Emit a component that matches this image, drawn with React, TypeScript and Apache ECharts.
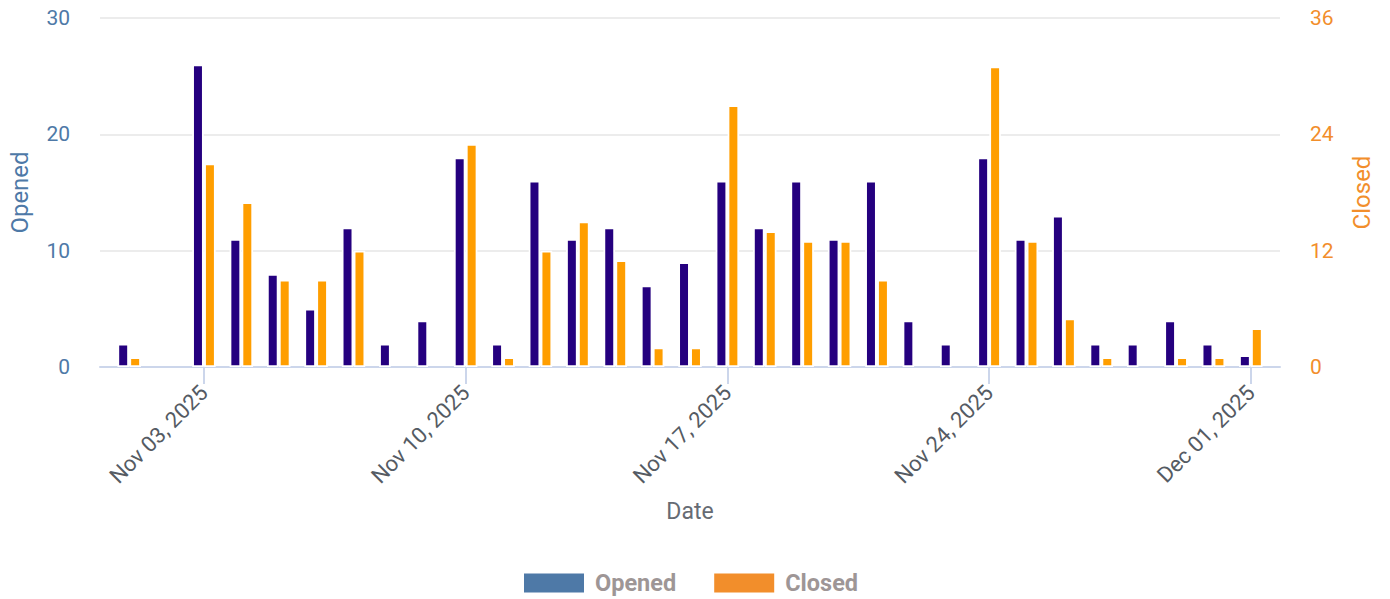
import React, { useEffect, useRef } from "react";
import * as echarts from "echarts";

const dates: string[] = [
  "Nov 01, 2025", "Nov 02, 2025", "Nov 03, 2025", "Nov 04, 2025", "Nov 05, 2025", "Nov 06, 2025",
  "Nov 07, 2025", "Nov 08, 2025", "Nov 09, 2025", "Nov 10, 2025", "Nov 11, 2025", "Nov 12, 2025",
  "Nov 13, 2025", "Nov 14, 2025", "Nov 15, 2025", "Nov 16, 2025", "Nov 17, 2025", "Nov 18, 2025",
  "Nov 19, 2025", "Nov 20, 2025", "Nov 21, 2025", "Nov 22, 2025", "Nov 23, 2025", "Nov 24, 2025",
  "Nov 25, 2025", "Nov 26, 2025", "Nov 27, 2025", "Nov 28, 2025", "Nov 29, 2025", "Nov 30, 2025",
  "Dec 01, 2025",
];

const opened: number[] = [2, 0, 26, 11, 8, 5, 12, 2, 4, 18, 2, 16, 11, 12, 7, 9, 16, 12, 16, 11, 16, 4, 2, 18, 11, 13, 2, 2, 4, 2, 1];
const closed: number[] = [1, 0, 21, 17, 9, 9, 12, 0, 0, 23, 1, 12, 15, 11, 2, 2, 27, 14, 13, 13, 9, 0, 0, 31, 13, 5, 1, 0, 1, 1, 4];

const tickLabels: string[] = ["Nov 03, 2025", "Nov 10, 2025", "Nov 17, 2025", "Nov 24, 2025", "Dec 01, 2025"];

const FONT = "Roboto, 'Noto Sans', sans-serif";

export default function App() {
  const ref = useRef<HTMLDivElement>(null);
  useEffect(() => {
    document.body.style.margin = "0";
    if (!ref.current) return;
    const chart = echarts.init(ref.current, null, { renderer: "svg" });
    const tickPositions = tickLabels.map((t) => dates.indexOf(t));
    const barBorder = { borderColor: "#ffffff", borderWidth: 1.75 };
    const toPoints = (arr: number[]) => arr.map((v, i) => [i, v === 0 ? "-" : v]);
    chart.setOption({
      animation: false,
      textStyle: { fontFamily: FONT },
      grid: { left: 100, right: 110, top: 18, bottom: 232, containLabel: false },
      legend: {
        left: 524,
        top: 570,
        padding: 0,
        itemWidth: 60,
        itemHeight: 19,
        itemGap: 38,
        icon: "rect",
        textStyle: { color: "#9e9696", fontSize: 23.5, fontWeight: "bold", lineHeight: 26, padding: [0, 0, 0, 6], fontFamily: FONT },
        data: [
          { name: "Opened", itemStyle: { color: "#4e79a7", borderWidth: 0 } },
          { name: "Closed", itemStyle: { color: "#f28e2b", borderWidth: 0 } },
        ],
      },
      xAxis: {
        type: "value",
        min: -0.78,
        max: 30.78,
        name: "Date",
        nameLocation: "middle",
        nameGap: 133,
        nameTextStyle: { color: "#666b73", fontSize: 23, fontFamily: FONT },
        axisLine: { show: true, onZero: false, lineStyle: { color: "#ccd6eb", width: 2 } },
        axisTick: { show: true, length: 17, customValues: tickPositions, lineStyle: { color: "#ccd6eb", width: 2 } },
        splitLine: { show: false },
        axisLabel: {
          rotate: 45,
          margin: 22,
          fontSize: 22,
          color: "#555b63",
          fontFamily: FONT,
          customValues: tickPositions,
          formatter: (v: number) => dates[Math.round(v)] ?? "",
        },
      },
      yAxis: [
        {
          type: "value",
          min: 0,
          max: 30,
          interval: 10,
          name: "Opened",
          nameLocation: "middle",
          nameGap: 68,
          nameTextStyle: { color: "#4e79a7", fontSize: 24, fontFamily: FONT },
          axisLine: { show: false },
          axisTick: { show: false },
          axisLabel: { color: "#4e79a7", fontSize: 21, margin: 30, fontFamily: FONT },
          splitLine: { show: true, lineStyle: { color: "#e6e6e6", width: 1.5 } },
        },
        {
          type: "value",
          min: 0,
          max: 36,
          interval: 12,
          name: "Closed",
          nameLocation: "middle",
          nameGap: 70,
          nameTextStyle: { color: "#f28e2b", fontSize: 24, fontFamily: FONT },
          axisLine: { show: false },
          axisTick: { show: false },
          axisLabel: { color: "#f28e2b", fontSize: 21, margin: 30, fontFamily: FONT },
          splitLine: { show: false },
        },
      ],
      series: [
        {
          name: "Opened",
          type: "bar",
          yAxisIndex: 0,
          barWidth: 11.5,
          barGap: "4%",
          itemStyle: { color: "#25007f", ...barBorder },
          data: toPoints(opened),
        },
        {
          name: "Closed",
          type: "bar",
          yAxisIndex: 1,
          barWidth: 11.5,
          barGap: "4%",
          itemStyle: { color: "#ff9e00", ...barBorder },
          data: toPoints(closed),
        },
      ],
    });
    return () => chart.dispose();
  }, []);
  return <div ref={ref} style={{ width: 1390, height: 599 }} />;
}
